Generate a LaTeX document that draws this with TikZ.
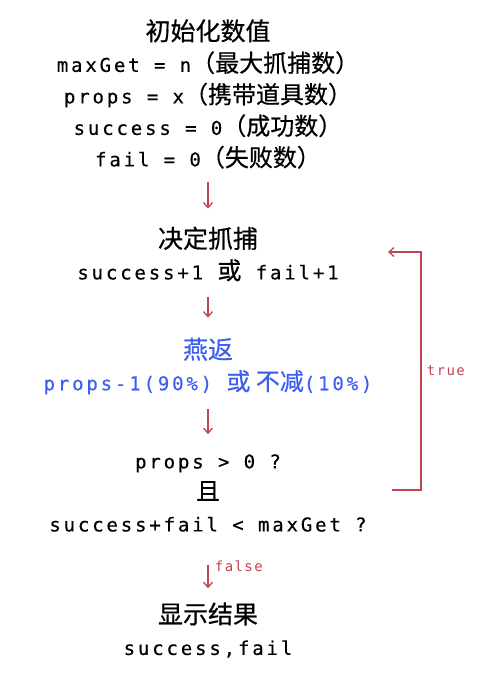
\documentclass[tikz,border=0pt]{standalone}
\usepackage{fontspec}
\usetikzlibrary{arrows.meta}
\setmainfont{DejaVu Sans Mono}[LetterSpace=15,FakeBold=0.4]
\newfontfamily\cjk{Noto Sans CJK SC}[FakeBold=0.5]
\newfontfamily\smallmono{DejaVu Sans Mono}[LetterSpace=10]
\definecolor{flowred}{RGB}{190,70,80}
\definecolor{flowblue}{RGB}{60,95,240}
\begin{document}
\begin{tikzpicture}[x=1pt,y=1pt,
  block/.style={align=center, inner sep=0pt, font=\fontsize{19}{31.5}\selectfont},
  flow/.style={-{Straight Barb[length=5pt,width=9pt]}, flowred, line width=1.3pt},
  tag/.style={flowred, font=\smallmono\fontsize{14}{14}\selectfont}]
\useasboundingbox (0,0) rectangle (478,-680);
\node[block] (init) at (208,-94) {{\cjk\fontsize{25}{31.5}\selectfont 初始化数值}\\
  maxGet = n{\cjk\fontsize{24}{31.5}\selectfont （最大抓捕数）}\\
  props = x{\cjk\fontsize{24}{31.5}\selectfont （携带道具数）}\\
  success = 0{\cjk\fontsize{24}{31.5}\selectfont （成功数）}\\
  fail = 0{\cjk\fontsize{24}{31.5}\selectfont （失败数）}};
\node[block] (decide) at (208,-254) {{\cjk\fontsize{25}{31.5}\selectfont 决定抓捕}\\
  success+1 {\cjk\fontsize{24}{31.5}\selectfont 或} fail+1};
\node[block, flowblue] (yanfan) at (208,-366) {{\cjk\fontsize{25}{31.5}\selectfont 燕返}\\
  props-1(90\%) {\cjk\fontsize{24}{31.5}\selectfont 或 不减}(10\%)};
\node[block] (check) at (208,-493) {props > 0 ?\\
  {\cjk\fontsize{24}{31.5}\selectfont 且}\\
  success+fail < maxGet ?};
\node[block] (result) at (208,-630) {{\cjk\fontsize{25}{31.5}\selectfont 显示结果}\\
  success,fail};
% arrows between blocks
\draw[flow, shorten <=13pt, shorten >=18pt] (init) -- (decide);
\draw[flow, shorten <=15pt, shorten >=20pt] (decide) -- (yanfan);
\draw[flow, shorten <=15pt, shorten >=20pt] (yanfan) -- (check);
\draw[flow, shorten <=33pt, shorten >=14pt] (check) -- node[tag, right=3pt, yshift=1pt] {false} (result);
% loop back
\coordinate (loopout) at (392,-490);
\coordinate (loopin) at (388,-252);
\draw[flow] (loopout) -- ++(29,0) |- node[tag, pos=0.25, right=2pt] {true} (loopin);
\end{tikzpicture}
\end{document}
